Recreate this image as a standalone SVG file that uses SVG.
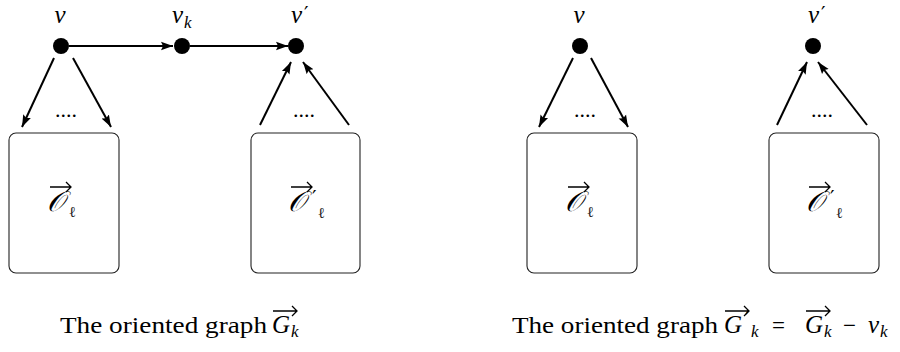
<svg xmlns="http://www.w3.org/2000/svg" width="900" height="352" viewBox="0 0 900 352">
<style>
.dot{fill:#000}
.lbl{font-family:'Liberation Serif','Times New Roman',serif;font-style:italic;font-size:25px;fill:#000}
.sub{font-family:'Liberation Serif','Times New Roman',serif;font-style:italic;font-size:17px;fill:#000}
.prm{font-family:'DejaVu Serif',serif;font-size:20px;fill:#000}
.box{fill:#fff;stroke:#222;stroke-width:1.1}
.cal{font-family:'DejaVu Serif',serif;font-style:italic;font-size:28px;fill:#000}
.ell{font-family:'DejaVu Serif',serif;font-size:15px;fill:#222}
.dots{font-family:'Liberation Serif',serif;font-size:22px;fill:#000}
.cap{font-family:'Liberation Serif','Times New Roman',serif;font-size:23px;fill:#000}
.edge{stroke:#000;stroke-width:2;fill:none;marker-end:url(#ah)}
.acc{stroke:#000;stroke-width:1.3;fill:none}
</style>
<defs>
<marker id="ah" markerUnits="userSpaceOnUse" markerWidth="13" markerHeight="10" refX="12" refY="5" orient="auto">
<path d="M0,0.8 L12,5 L0,9.2 L2,5 Z" fill="#000"/>
</marker>
</defs>
<g id="n-v-left">
<circle class="dot" cx="61" cy="46" r="8"/>
<text class="lbl" x="60" y="23" text-anchor="middle">v</text>
</g>
<g id="n-vk">
<circle class="dot" cx="182" cy="46" r="8"/>
<text class="lbl" x="172" y="23">v</text>
<text class="sub" x="184" y="28">k</text>
</g>
<g id="n-vp-left">
<circle class="dot" cx="296" cy="46" r="8"/>
<text class="lbl" x="291" y="23">v</text>
<text class="prm" x="304" y="21">′</text>
</g>
<g id="box-O-left">
<rect class="box" x="9" y="133" width="110" height="140" rx="7"/>
<text class="cal" x="47" y="211">𝒪</text>
<text class="ell" x="69" y="217">ℓ</text>
<path class="acc" d="M50,187 H71 M66,182 L71,187 L66,192"/>
<text class="dots" x="66" y="117" text-anchor="middle">....</text>
</g>
<g id="box-Op-left">
<rect class="box" x="251" y="133" width="109" height="140" rx="7"/>
<text class="cal" x="288" y="211">𝒪</text>
<text class="prm" x="312" y="205">′</text>
<text class="ell" x="318" y="218">ℓ</text>
<path class="acc" d="M291,187 H312 M307,182 L312,187 L307,192"/>
<text class="dots" x="304" y="117" text-anchor="middle">....</text>
</g>
<g id="n-v-right">
<circle class="dot" cx="580" cy="46" r="8"/>
<text class="lbl" x="579" y="23" text-anchor="middle">v</text>
</g>
<g id="n-vp-right">
<circle class="dot" cx="813" cy="46" r="8"/>
<text class="lbl" x="808" y="23">v</text>
<text class="prm" x="821" y="21">′</text>
</g>
<g id="box-O-right">
<rect class="box" x="527" y="133" width="110" height="140" rx="7"/>
<text class="cal" x="565" y="211">𝒪</text>
<text class="ell" x="587" y="217">ℓ</text>
<path class="acc" d="M568,187 H589 M584,182 L589,187 L584,192"/>
<text class="dots" x="585" y="117" text-anchor="middle">....</text>
</g>
<g id="box-Op-right">
<rect class="box" x="769" y="133" width="110" height="140" rx="7"/>
<text class="cal" x="806" y="211">𝒪</text>
<text class="prm" x="830" y="205">′</text>
<text class="ell" x="836" y="218">ℓ</text>
<path class="acc" d="M809,187 H830 M825,182 L830,187 L825,192"/>
<text class="dots" x="822" y="117" text-anchor="middle">....</text>
</g>
<g id="edges">
<line class="edge" x1="69" y1="46" x2="173" y2="46"/>
<line class="edge" x1="190" y1="46" x2="288" y2="46"/>
<line class="edge" x1="54" y1="58" x2="22" y2="127"/>
<line class="edge" x1="73" y1="58" x2="111" y2="127"/>
<line class="edge" x1="260" y1="125" x2="291" y2="62"/>
<line class="edge" x1="349" y1="125" x2="303" y2="62"/>
<line class="edge" x1="573" y1="58" x2="539" y2="127"/>
<line class="edge" x1="591" y1="58" x2="628" y2="127"/>
<line class="edge" x1="777" y1="125" x2="807" y2="62"/>
<line class="edge" x1="867" y1="125" x2="818" y2="62"/>
</g>
<g id="caption-left">
<text class="cap" x="60" y="333" textLength="207" lengthAdjust="spacingAndGlyphs">The oriented graph</text>
<text class="lbl" x="272" y="333">G</text>
<text class="sub" x="291" y="337">k</text>
<path class="acc" d="M273,311 H297 M292,306 L297,311 L292,316"/>
</g>
<g id="caption-right">
<text class="cap" x="512" y="333" textLength="206" lengthAdjust="spacingAndGlyphs">The oriented graph</text>
<text class="lbl" x="724" y="333">G</text>
<text class="prm" x="745" y="326">′</text>
<text class="sub" x="751" y="337">k</text>
<text class="cap" x="772" y="333">=</text>
<text class="lbl" x="805" y="333">G</text>
<text class="sub" x="824" y="337">k</text>
<text class="cap" x="843" y="333">−</text>
<text class="lbl" x="868" y="333">v</text>
<text class="sub" x="880" y="337">k</text>
<path class="acc" d="M725,311 H749 M744,306 L749,311 L744,316"/>
<path class="acc" d="M806,311 H830 M825,306 L830,311 L825,316"/>
</g>
</svg>
